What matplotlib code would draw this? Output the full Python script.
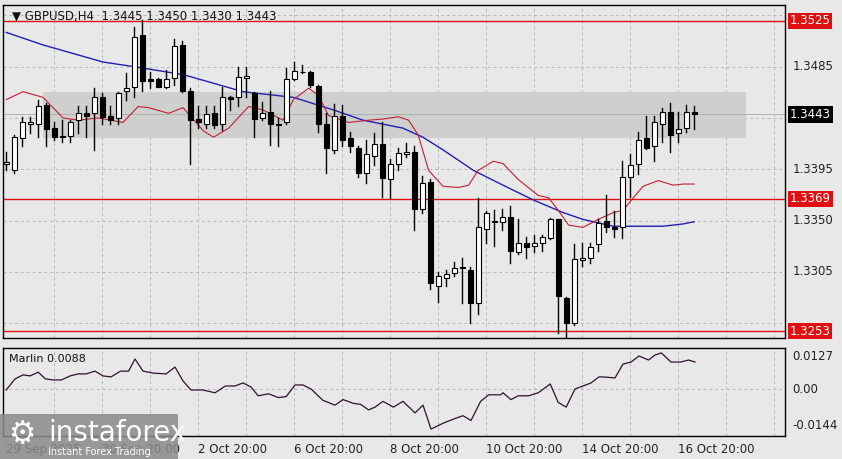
import matplotlib
matplotlib.use("Agg")
import matplotlib.pyplot as plt
from matplotlib.patches import Rectangle
import numpy as np

opens  = [1.3400,1.3394,1.3422,1.3435,1.3435,1.3451,1.3431,1.3424,1.3424,1.3438,1.3444,1.3444,1.3458,1.3442,1.3440,1.3464,1.3467,1.3513,1.3474,1.3474,
          1.3467,1.3475,1.3504,1.3464,1.3439,1.3435,1.3444,1.3435,1.3458,1.3458,1.3475,1.3462,1.3440,1.3445,1.3434,1.3436,1.3474,1.3480,1.3480,1.3468,
          1.3435,1.3412,1.3442,1.3422,1.3414,1.3392,1.3407,1.3417,1.3386,1.3400,1.3408,1.3410,1.3360,1.3384,1.3293,1.3300,1.3304,1.3309,1.3307,1.3278,
          1.3343,1.3349,1.3349,1.3353,1.3322,1.3330,1.3328,1.3330,1.3335,1.3351,1.3282,1.3260,1.3315,1.3317,1.3329,1.3350,1.3344,1.3344,1.3388,1.3400,
          1.3422,1.3415,1.3435,1.3445,1.3427,1.3431,1.3445]
highs  = [1.3410,1.3425,1.3441,1.3441,1.3456,1.3453,1.3436,1.3438,1.3438,1.3450,1.3450,1.3466,1.3462,1.3450,1.3463,1.3479,1.3520,1.3526,1.3480,1.3475,
          1.3482,1.3509,1.3507,1.3466,1.3450,1.3450,1.3450,1.3467,1.3459,1.3485,1.3485,1.3463,1.3454,1.3464,1.3440,1.3484,1.3489,1.3486,1.3481,1.3469,
          1.3444,1.3452,1.3451,1.3428,1.3415,1.3421,1.3427,1.3436,1.3404,1.3414,1.3418,1.3415,1.3389,1.3386,1.3305,1.3307,1.3314,1.3317,1.3309,1.3370,
          1.3358,1.3359,1.3360,1.3363,1.3351,1.3336,1.3337,1.3337,1.3352,1.3351,1.3283,1.3329,1.3330,1.3330,1.3351,1.3372,1.3358,1.3402,1.3408,1.3428,
          1.3442,1.3442,1.3449,1.3453,1.3445,1.3451,1.3450]
lows   = [1.3394,1.3392,1.3415,1.3427,1.3423,1.3415,1.3421,1.3419,1.3419,1.3427,1.3423,1.3412,1.3435,1.3435,1.3435,1.3456,1.3458,1.3464,1.3466,1.3467,
          1.3466,1.3469,1.3463,1.3400,1.3431,1.3431,1.3431,1.3429,1.3447,1.3450,1.3458,1.3423,1.3438,1.3416,1.3415,1.3435,1.3473,1.3479,1.3467,1.3428,
          1.3392,1.3409,1.3415,1.3410,1.3388,1.3383,1.3399,1.3371,1.3370,1.3394,1.3406,1.3342,1.3357,1.3290,1.3279,1.3293,1.3301,1.3278,1.3260,1.3268,
          1.3330,1.3328,1.3342,1.3313,1.3321,1.3317,1.3322,1.3323,1.3334,1.3251,1.3247,1.3258,1.3310,1.3313,1.3323,1.3340,1.3336,1.3335,1.3371,1.3391,
          1.3413,1.3402,1.3419,1.3410,1.3419,1.3428,1.3430]
closes = [1.3401,1.3423,1.3436,1.3436,1.3450,1.3430,1.3423,1.3423,1.3436,1.3444,1.3442,1.3458,1.3441,1.3438,1.3462,1.3466,1.3511,1.3472,1.3472,1.3467,
          1.3474,1.3503,1.3464,1.3438,1.3436,1.3443,1.3434,1.3458,1.3457,1.3476,1.3477,1.3439,1.3444,1.3435,1.3435,1.3474,1.3481,1.3480,1.3469,1.3435,
          1.3414,1.3442,1.3421,1.3415,1.3392,1.3408,1.3417,1.3387,1.3400,1.3409,1.3410,1.3360,1.3383,1.3295,1.3301,1.3303,1.3308,1.3308,1.3278,1.3344,
          1.3357,1.3350,1.3353,1.3323,1.3330,1.3327,1.3330,1.3336,1.3351,1.3284,1.3260,1.3316,1.3317,1.3327,1.3348,1.3344,1.3343,1.3388,1.3399,1.3421,
          1.3414,1.3436,1.3445,1.3425,1.3430,1.3445,1.3443]

red_x = [0,2.1,4.6,7.1,9,11.5,14.6,16.5,17.8,20.3,22.1,24.6,25.9,27.8,30.3,32.1,34.6,35.9,37.8,39,40.3,42.8,45.3,47.1,49,50.3,51.5,52.8,54.6,56.5,
         57.8,59,60.9,62.1,64,66.5,67.8,69,70.3,72.1,74,75.9,77.1,78.4,79.6,81.5,83.4,84.6,86]
red_y = [1.3456,1.3463,1.3458,1.3440,1.3438,1.3440,1.3436,1.3450,1.3449,1.3444,1.3449,1.3429,1.3423,1.3431,1.3450,1.3447,1.3438,1.3456,1.3466,1.3460,
         1.3442,1.3436,1.3438,1.3439,1.3441,1.3438,1.3425,1.3394,1.3380,1.3379,1.3381,1.3394,1.3402,1.3400,1.3386,1.3372,1.3370,1.3359,1.3346,1.3344,
         1.3351,1.3357,1.3359,1.3370,1.3380,1.3385,1.3381,1.3382,1.3382]
blue_x = [0,4.6,12.1,15.9,22.1,29.6,35.9,40.9,44.6,49.6,52.1,54.6,58.4,62.1,65.9,69.6,72.1,75.9,79.6,82.1,84.6,86]
blue_y = [1.3515,1.3504,1.3489,1.3485,1.3478,1.3463,1.3458,1.3447,1.3438,1.3431,1.3423,1.3412,1.3394,1.3381,1.3368,1.3357,1.3351,1.3345,1.3345,1.3345,1.3347,1.3349]

osc_x = [0,1.1,2.1,3,4,4.9,5.9,6.9,8,9,10,11.1,12.1,13.1,14.3,15.3,16.1,17.1,18.4,20,21.1,22.1,23.1,24.6,26.1,27.4,28.6,29.6,30.6,31.5,
         32.8,34,35,36.1,37.1,38.1,39.6,41.1,42.1,43.4,44.3,45.3,46.1,47.1,48.4,49.6,51.1,52.1,53.1,54.6,56.1,57.1,58.1,59.3,60.3,61.8,62.1,63.1,64,65.3,
         66.5,67.5,68,69,70,71.1,72.1,73.1,74.1,74.6,76.1,77.1,78.1,79.1,80.3,81.1,81.9,83.1,84.3,85.3,86.1]
osc_y = [-0.0004,0.0040,0.0056,0.0052,0.0067,0.0040,0.0036,0.0036,0.0052,0.0060,0.0060,0.0071,0.0052,0.0048,0.0071,0.0071,0.0119,0.0071,0.0063,0.0060,
         0.0087,0.0032,-0.0004,-0.0004,-0.0015,0.0012,0.0012,0.0024,0.0008,-0.0027,-0.0019,-0.0034,-0.0030,0.0016,0.0016,0.0,-0.0045,-0.0064,-0.0042,-0.0057,
         -0.0061,-0.0083,-0.0072,-0.0049,-0.0072,-0.0049,-0.0095,-0.0064,-0.0159,-0.0136,-0.0117,-0.0106,-0.0125,-0.0049,-0.0023,-0.0023,-0.0015,-0.0042,-0.0027,-0.0027,
         -0.0015,0.0008,0.0020,-0.0053,-0.0072,0.0,0.0012,0.0024,0.0048,0.0048,0.0044,0.0099,0.0107,0.0131,0.0115,0.0135,0.0143,0.0107,0.0107,0.0115,0.0107]

levels = [1.3525, 1.3369, 1.3253]
zone = (1.3422, 1.3463)
last_price = 1.3443
price_ticks = [1.3260, 1.3305, 1.3350, 1.3395, 1.3440, 1.3485, 1.3530]
shown_ticks = [1.3485, 1.3395, 1.3350, 1.3305]
date_idx = [0, 12, 24, 36, 48, 60, 72, 84]
date_labels = ["29 Sep 2025", "30 Sep 20:00", "2 Oct 20:00", "6 Oct 20:00", "8 Oct 20:00", "10 Oct 20:00", "14 Oct 20:00", "16 Oct 20:00"]

BG = "#e8e8e8"
W, H = 842, 459
fig = plt.figure(figsize=(W/100, H/100), dpi=100, facecolor=BG)
x0, x1 = 3/W, 785/W
ax = fig.add_axes([x0, 1-338/H, x1-x0, 333/H], facecolor=BG)
ax2 = fig.add_axes([x0, 1-436/H, x1-x0, 88/H], facecolor=BG)
xmax = (785-3)/8 - 0.4
for a in (ax, ax2):
    a.set_xlim(-0.4, xmax)
    for s in a.spines.values():
        s.set_color("black"); s.set_linewidth(1)
    for gx in range(6, 100, 6):
        a.axvline(gx, color="#b8b8b8", ls=(0, (3, 3)), lw=0.7, zorder=0)
    a.tick_params(length=0)
ax.set_ylim(1.32470, 1.35390)
ax2.set_ylim(-0.01865, 0.01627)

for p in price_ticks:
    ax.axhline(p, color="#b8b8b8", ls=(0, (3, 3)), lw=0.7, zorder=0)
ax2.axhline(0, color="#b8b8b8", ls=(0, (3, 3)), lw=0.7, zorder=0)

ax.add_patch(Rectangle((4.6, zone[0]), 92.5-4.6, zone[1]-zone[0], color="#cfcfcf", zorder=1, lw=0))
ax.axhline(last_price, color="#aaaaaa", lw=0.6, zorder=1)
for lv in levels:
    ax.axhline(lv, color="#e01010", lw=1.0, zorder=2)

ax.plot(blue_x, blue_y, color="#2020b0", lw=1.0, zorder=3)
ax.plot(red_x, red_y, color="#c02030", lw=0.8, zorder=3)

for i, (o, h, l, c) in enumerate(zip(opens, highs, lows, closes)):
    ax.plot([i, i], [l, h], color="black", lw=1, zorder=4)
    fc = "white" if c >= o else "black"
    b0, bh = min(o, c), max(abs(c-o), 0.00004)
    ax.add_patch(Rectangle((i-0.32, b0), 0.64, bh, facecolor=fc, edgecolor="black", lw=0.8, zorder=5))

ax2.plot(osc_x, osc_y, color="#301030", lw=0.9, zorder=3)

ax.set_xticks([]); ax.set_yticks([])
ax2.set_yticks([]); ax2.set_xticks([])

for p in shown_ticks:
    ax.text(xmax + 0.9, p, f"{p:.4f}", fontsize=8.5, va="center", ha="left", color="#222222", clip_on=False)
for lv in levels:
    ax.text(xmax + 0.6, lv, f"{lv:.4f}", fontsize=8.5, va="center", ha="left", color="white", clip_on=False,
            bbox=dict(boxstyle="square,pad=0.15", fc="#e01010", ec="none"))
ax.text(xmax + 0.6, last_price, f"{last_price:.4f}", fontsize=8.5, va="center", ha="left", color="white", clip_on=False,
        bbox=dict(boxstyle="square,pad=0.15", fc="black", ec="none"))
for v, t in [(0.0127, "0.0127"), (0.0, "0.00"), (-0.0144, "-0.0144")]:
    ax2.text(xmax + 0.9, v, t, fontsize=8.5, va="center", ha="left", color="#222222", clip_on=False)

ax.text(0.012, 0.985, "\u25BC GBPUSD,H4  1.3445 1.3450 1.3430 1.3443", transform=ax.transAxes, fontsize=8.5,
        va="top", ha="left", color="#111111")
ax2.text(0.008, 0.93, "Marlin 0.0088", transform=ax2.transAxes, fontsize=8, va="top", ha="left", color="#111111")

for idx, lab in zip(date_idx, date_labels):
    ax2.text(idx, -0.0215, lab, fontsize=8.5, va="top", ha="left", color="#222222", clip_on=False)

fig.patches.append(Rectangle((0, 0), 178/W, 45/H, transform=fig.transFigure, facecolor="#8a8a8a", alpha=0.85, zorder=10))
fig.text(48/W, 26/H, "instaforex", fontsize=20, color="white", va="center", ha="left", zorder=11)
fig.text(48/W, 7/H, "Instant Forex Trading", fontsize=7, color="white", va="center", ha="left", zorder=11)
fig.text(22/W, 24/H, "\u2699", fontsize=22, color="white", va="center", ha="center", zorder=11)

fig.savefig("out.png", dpi=100, facecolor=BG)
